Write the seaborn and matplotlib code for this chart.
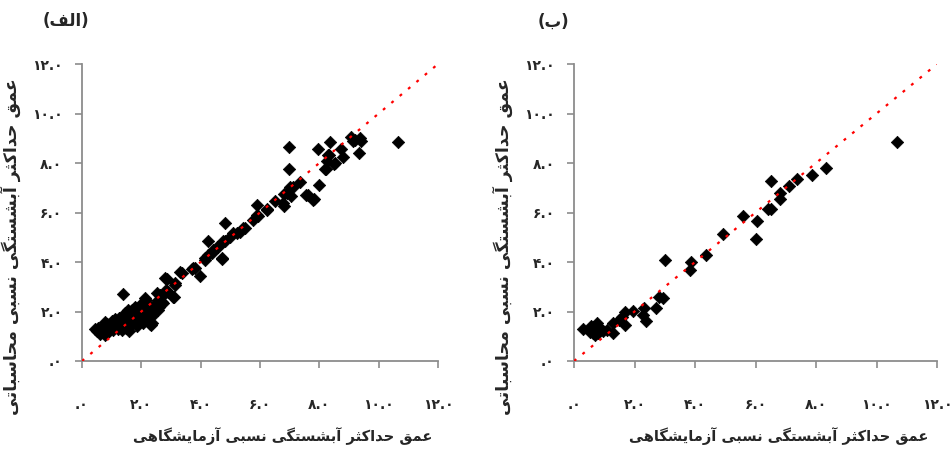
import numpy as np
import pandas as pd
import seaborn as sns
import matplotlib.pyplot as plt

# --- data (relative scour depth) ---
# panel (a): laboratory vs computed
lab_a = [0.45, 0.50, 0.55, 0.60, 0.65, 0.70, 0.75, 0.80, 0.85, 0.90, 0.95, 1.00, 1.00, 1.05,
         1.10, 1.10, 1.15, 1.20, 1.20, 1.25, 1.30, 1.35, 1.35, 1.40, 1.45, 1.50, 1.50, 1.55,
         1.60, 1.60, 1.65, 1.70, 1.70, 1.75, 1.80, 1.85, 1.85, 1.90, 1.95, 2.00, 2.05, 2.05,
         2.10, 2.15, 2.20, 2.25, 2.30, 2.35, 2.40, 2.45, 2.50, 2.55, 2.60, 2.65, 2.70,
         0.49, 0.78, 0.78, 1.11, 1.34, 1.56, 1.79, 2.01, 2.12, 2.12, 2.35, 2.52, 2.80, 3.13,
         3.08, 3.30, 1.67, 1.22, 0.94, 1.90, 2.29, 2.69, 2.91, 1.45, 1.37, 2.16, 2.31, 2.57,
         2.74, 2.63, 2.83, 2.85, 3.11, 3.13, 3.36, 3.72, 3.81, 3.98, 4.15, 4.26, 4.26, 4.43,
         4.59, 4.73, 4.82, 4.82, 4.99, 5.10, 5.33, 5.49, 5.77, 5.89, 5.89, 5.94, 6.22, 6.25,
         6.50, 6.79, 6.81, 6.81, 6.90, 7.03, 7.01, 7.12, 7.35, 7.55, 7.63, 7.80, 7.82, 8.00,
         6.99, 6.99, 7.94, 8.20, 8.22, 8.25, 8.30, 8.34, 8.36, 8.49, 8.53, 8.73, 8.81, 9.07,
         9.15, 9.20, 9.34, 9.37, 9.40, 10.64, 4.37, 4.54, 4.71, 4.76, 5.21, 5.44, 3.75, 4.15]
calc_a = [1.30, 1.20, 1.35, 1.10, 1.25, 1.40, 1.15, 1.30, 1.50, 1.20, 1.45, 1.35, 1.60, 1.25,
          1.50, 1.70, 1.40, 1.30, 1.60, 1.75, 1.45, 1.25, 1.60, 1.80, 1.50, 1.35, 1.70, 1.95,
          1.55, 1.20, 1.80, 2.05, 1.50, 1.65, 2.15, 1.40, 1.90, 1.60, 2.20, 1.75, 1.55, 2.35,
          1.90, 2.10, 1.70, 2.20, 1.50, 1.80, 2.00, 2.30, 2.10, 2.45, 2.20, 2.60, 2.40,
          1.25, 1.05, 1.59, 1.66, 1.53, 2.06, 2.20, 2.33, 2.54, 1.86, 1.53, 2.74, 3.35, 3.14,
          2.60, 3.61, 1.66, 1.39, 1.39, 1.73, 2.20, 2.67, 2.80, 1.93, 2.71, 2.47, 1.46, 2.06,
          2.33, 2.67, 2.87, 3.31, 2.60, 3.07, 3.57, 3.71, 3.75, 3.44, 4.15, 4.29, 4.85, 4.49,
          4.62, 4.13, 4.83, 5.57, 5.03, 5.17, 5.23, 5.37, 5.70, 5.91, 6.31, 5.84, 6.14, 6.11,
          6.48, 6.38, 6.27, 6.76, 6.78, 6.65, 7.05, 7.05, 7.25, 6.72, 6.72, 6.51, 6.54, 7.13,
          8.63, 7.77, 8.56, 7.77, 7.77, 8.10, 8.33, 8.33, 8.85, 7.97, 8.00, 8.56, 8.24, 9.07,
          8.87, 8.94, 8.40, 9.01, 8.87, 8.85, 4.36, 4.62, 4.15, 4.83, 5.17, 5.37, 3.75, 4.09]

# panel (b)
lab_b = [10.67, 8.32, 7.88, 7.36, 7.12, 6.81, 6.81, 6.50, 6.42, 6.50, 6.06, 6.02, 5.60, 4.94,
         4.36, 3.87, 3.83, 3.02, 2.95, 2.82, 2.71, 2.38, 2.29, 2.31, 1.94, 1.69, 1.69, 1.58,
         1.47, 1.30, 1.28, 1.08, 0.80, 0.75, 0.64, 0.64, 0.29, 0.53, 0.86, 0.55, 0.70, 0.95]
calc_b = [8.85, 7.78, 7.50, 7.35, 7.08, 6.78, 6.54, 7.29, 6.14, 6.14, 5.64, 4.92, 5.87, 5.14,
          4.29, 4.02, 3.68, 4.09, 2.54, 2.60, 2.16, 1.62, 1.86, 2.13, 2.04, 2.00, 1.46, 1.79,
          1.66, 1.53, 1.12, 1.25, 1.12, 1.53, 1.39, 1.14, 1.29, 1.18, 1.32, 1.40, 1.05, 1.20]

ref_line = [0, 12]
ticks = [0, 2, 4, 6, 8, 10, 12]
tick_labels = [".۰", "۲.۰", "۴.۰", "۶.۰", "۸.۰", "۱۰.۰", "۱۲.۰"]

xlabel_txt = "عمق حداکثر آبشستگی نسبی آزمایشگاهی"
ylabel_txt = "عمق حداکثر آبشستگی نسبی محاسباتی"
title_a = "الف"
title_b = "ب"

# matplotlib has no arabic shaping, so map letters to presentation forms by hand
# (isolated, final, initial, medial)
FORMS = {
    "\u0627": ("\uFE8D", "\uFE8E", None, None),
    "\u0622": ("\uFE81", "\uFE82", None, None),
    "\u0628": ("\uFE8F", "\uFE90", "\uFE91", "\uFE92"),
    "\u062A": ("\uFE95", "\uFE96", "\uFE97", "\uFE98"),
    "\u062B": ("\uFE99", "\uFE9A", "\uFE9B", "\uFE9C"),
    "\u062D": ("\uFEA1", "\uFEA2", "\uFEA3", "\uFEA4"),
    "\u062F": ("\uFEA9", "\uFEAA", None, None),
    "\u0631": ("\uFEAD", "\uFEAE", None, None),
    "\u0632": ("\uFEAF", "\uFEB0", None, None),
    "\u0633": ("\uFEB1", "\uFEB2", "\uFEB3", "\uFEB4"),
    "\u0634": ("\uFEB5", "\uFEB6", "\uFEB7", "\uFEB8"),
    "\u0639": ("\uFEC9", "\uFECA", "\uFECB", "\uFECC"),
    "\u0641": ("\uFED1", "\uFED2", "\uFED3", "\uFED4"),
    "\u0642": ("\uFED5", "\uFED6", "\uFED7", "\uFED8"),
    "\u0644": ("\uFEDD", "\uFEDE", "\uFEDF", "\uFEE0"),
    "\u0645": ("\uFEE1", "\uFEE2", "\uFEE3", "\uFEE4"),
    "\u0646": ("\uFEE5", "\uFEE6", "\uFEE7", "\uFEE8"),
    "\u0647": ("\uFEE9", "\uFEEA", "\uFEEB", "\uFEEC"),
    "\u06A9": ("\uFB8E", "\uFB8F", "\uFB90", "\uFB91"),
    "\u06AF": ("\uFB92", "\uFB93", "\uFB94", "\uFB95"),
    "\u06CC": ("\uFBFC", "\uFBFD", "\uFBFE", "\uFBFF"),
}


def shape_fa(text):
    out = []
    for i, ch in enumerate(text):
        if ch not in FORMS:
            out.append(ch)
            continue
        prev = text[i - 1] if i > 0 else ""
        nxt = text[i + 1] if i + 1 < len(text) else ""
        join_prev = prev in FORMS and FORMS[prev][2] is not None
        join_next = nxt in FORMS and FORMS[ch][2] is not None
        iso, fin, ini, med = FORMS[ch]
        if join_prev and join_next:
            out.append(med)
        elif join_prev:
            out.append(fin)
        elif join_next:
            out.append(ini)
        else:
            out.append(iso)
    return "".join(out[::-1])


sns.set_style("ticks")
plt.rcParams["font.family"] = ["DejaVu Sans"]
plt.rcParams["font.weight"] = "bold"

fig = plt.figure(figsize=(9.52, 4.55), dpi=100)
ax1 = fig.add_axes([0.0861, 0.2066, 0.374, 0.6527])
ax2 = fig.add_axes([0.603, 0.2066, 0.3813, 0.6527])

grey = "#8c8c8c"
for ax, xs, ys, lab_x in [(ax1, lab_a, calc_a, -0.172), (ax2, lab_b, calc_b, -0.168)]:
    df = pd.DataFrame({"lab": xs, "calc": ys})
    sns.scatterplot(data=df, x="lab", y="calc", marker="D", color="black",
                    edgecolor="black", linewidth=0.5, s=40, ax=ax, zorder=2)
    ax.plot(ref_line, ref_line, color="red", lw=1.6, linestyle=(0, (1.3, 3.6)), zorder=3)
    ax.set_xlim(0, 12)
    ax.set_ylim(0, 12)
    ax.set_xticks(ticks)
    ax.set_yticks(ticks)
    ax.set_xticklabels(tick_labels, fontsize=10, fontweight="bold")
    ax.set_yticklabels(tick_labels, fontsize=10, fontweight="bold")
    ax.tick_params(axis="x", length=5, width=1.2, color=grey, pad=22)
    ax.tick_params(axis="y", length=5, width=1.2, color=grey, pad=9)
    sns.despine(ax=ax)
    for side in ["left", "bottom"]:
        ax.spines[side].set_color(grey)
        ax.spines[side].set_linewidth(1.3)
    ax.set_xlabel(shape_fa(xlabel_txt), fontsize=10.5, fontweight="bold")
    ax.set_ylabel(shape_fa(ylabel_txt), fontsize=12.5, fontweight="bold")
    ax.xaxis.set_label_coords(0.565, -0.222)
    ax.yaxis.set_label_coords(lab_x, 0.385)

fig.text(66 / 952, 1 - 21 / 455, "(" + shape_fa(title_a) + ")", ha="center", va="center",
         fontsize=12, fontweight="bold")
fig.text(553 / 952, 1 - 22 / 455, "(" + shape_fa(title_b) + ")", ha="center", va="center",
         fontsize=12, fontweight="bold")

plt.savefig("out.png", dpi=100)
plt.close()
